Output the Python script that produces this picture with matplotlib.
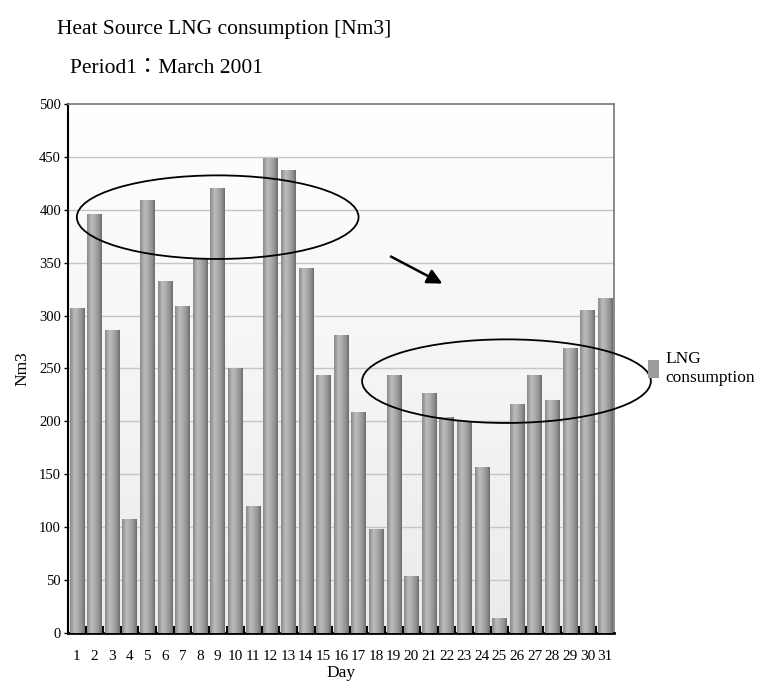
import numpy as np
import matplotlib
matplotlib.use("Agg")
import matplotlib.pyplot as plt
from matplotlib.colors import LinearSegmentedColormap
from matplotlib.patches import Ellipse, Patch

# Daily LNG consumption of the heat source, March 2001
days = list(range(1, 32))
consumption = [307, 396, 286, 108, 409, 333, 309, 354, 421, 250,
               120, 449, 438, 345, 244, 282, 209, 98, 244, 54,
               227, 204, 200, 157, 14, 216, 244, 220, 269, 305, 317]

title = "Heat Source LNG consumption [Nm3]"
subtitle = "Period1：March 2001"
y_label = "Nm3"
x_label = "Day"
series_label = "LNG\nconsumption"
y_ticks = list(range(0, 501, 50))

plt.rcParams["font.family"] = ["Liberation Serif", "Noto Sans CJK JP", "DejaVu Serif"]

fig = plt.figure(figsize=(7.82, 6.84), dpi=100)
ax = fig.add_axes([0.087, 0.0746, 0.698, 0.7734])

ax.set_xlim(0.5, 31.5)
ax.set_ylim(0, 500)

# soft vertical background gradient inside the plot area
bg = np.linspace(1.0, 0.0, 256).reshape(-1, 1)
bg_cmap = LinearSegmentedColormap.from_list("bg", ["#ffffff", "#ebebeb"])
ax.imshow(bg, cmap=bg_cmap, aspect="auto", extent=[0, 1, 0, 1],
          transform=ax.transAxes, zorder=0, origin="lower")

for t in y_ticks[1:-1]:
    ax.axhline(t, color="#c6c6c6", lw=1.0, zorder=1)

bars = ax.bar(days, consumption, width=0.82, color="#a0a0a0",
              edgecolor="none", zorder=2)

# cylinder-style shading across each bar
bar_cmap = LinearSegmentedColormap.from_list(
    "bar", [(0.0, "#8a8a8a"), (0.3, "#bcbcbc"), (0.55, "#ababab"),
            (0.85, "#8a8a8a"), (1.0, "#6a6a6a")])
shade = np.linspace(0, 1, 64).reshape(1, -1)
for b in bars:
    x0, w, h = b.get_x(), b.get_width(), b.get_height()
    im = ax.imshow(shade, cmap=bar_cmap, aspect="auto",
                   extent=[x0, x0 + w, 0, h], zorder=3, interpolation="bilinear")
    im.set_clip_path(b)
ax.set_xlim(0.5, 31.5)
ax.set_ylim(0, 500)

# highlighted periods and trend arrow
ax.add_patch(Ellipse((9.0, 393), 16.0, 79, fill=False, ec="black", lw=1.3, zorder=5))
ax.add_patch(Ellipse((25.4, 238), 16.4, 79, fill=False, ec="black", lw=1.3,
                     zorder=5, clip_on=False))
ax.annotate("", xy=(21.9, 329), xytext=(18.7, 357),
            arrowprops=dict(arrowstyle="-|>,head_length=0.9,head_width=0.45",
                            color="black", lw=1.8), zorder=6)

# axes frame
for side in ("left", "bottom"):
    ax.spines[side].set_color("black")
ax.spines["left"].set_linewidth(1.5)
ax.spines["bottom"].set_linewidth(2.0)
for side in ("top", "right"):
    ax.spines[side].set_color("#777777")
    ax.spines[side].set_linewidth(1.2)

ax.set_yticks(y_ticks)
ax.set_yticklabels([str(t) for t in y_ticks], fontsize=10.5)
ax.tick_params(axis="y", direction="out", length=3, width=1, pad=2)

ax.set_xticks(days)
ax.set_xticklabels([str(d) for d in days], fontsize=11)
ax.tick_params(axis="x", length=0, pad=12)
ax.set_xticks(np.arange(1.5, 31.5, 1), minor=True)
ax.tick_params(axis="x", which="minor", direction="in", length=5, width=1.5,
               color="black")

ax.set_xlabel(x_label, fontsize=12.5, labelpad=2)
ax.set_ylabel(y_label, fontsize=12.5, labelpad=6)

fig.text(0.073, 0.957, title, fontsize=15.5, va="center", ha="left")
fig.text(0.089, 0.900, subtitle, fontsize=15.5, va="center", ha="left")

ax.legend(handles=[Patch(facecolor="#9c9c9c", edgecolor="none", label=series_label)],
          loc="center left", bbox_to_anchor=(1.05, 0.5), frameon=False,
          fontsize=12.5, handlelength=0.6, handleheight=1.2, handletextpad=0.4,
          borderaxespad=0)

fig.savefig("out.png", dpi=100)
